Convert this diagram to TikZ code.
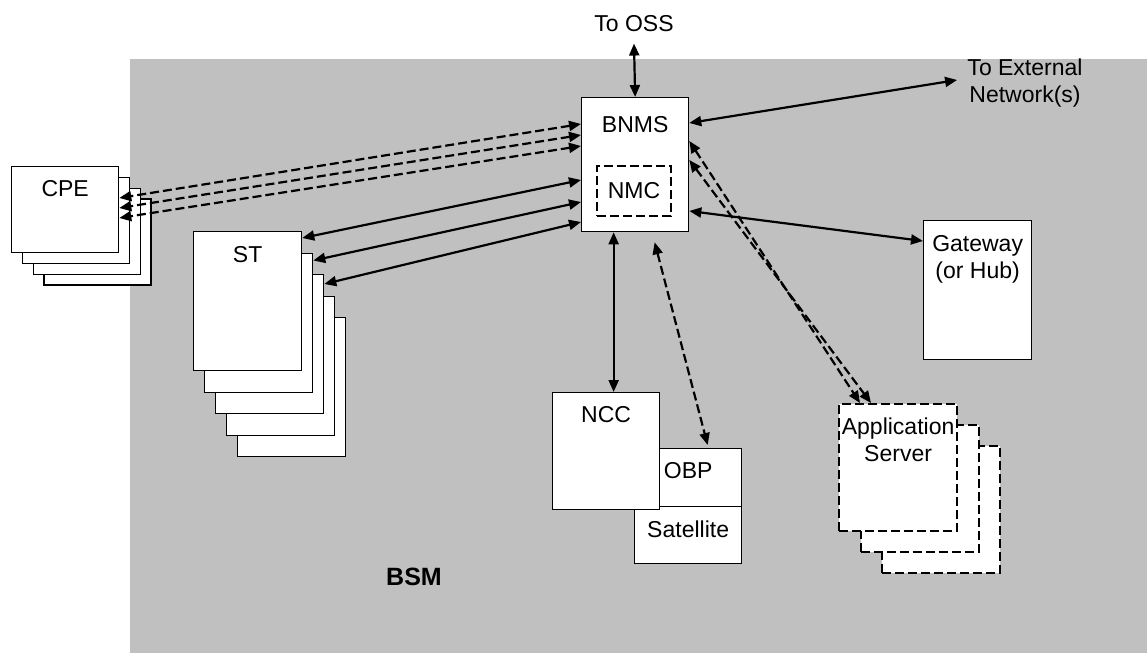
\documentclass[tikz,border=0pt]{standalone}
\usepackage{fontspec}
\setmainfont{Liberation Sans}
\usetikzlibrary{arrows.meta}
\definecolor{bsmgray}{RGB}{192,192,192}
\begin{document}
\begin{tikzpicture}[x=0.5pt,y=-0.5pt,font=\fontsize{11.5}{13.5}\selectfont,>={Triangle[length=6pt,width=5pt]}]
  \tikzstyle{box}=[draw,fill=white,line width=0.65pt,anchor=north west,inner sep=0pt]
  \tikzstyle{dbox}=[box,line width=1.1pt,dash pattern=on 4.5pt off 2pt]
  \tikzstyle{ttl}=[anchor=north,inner sep=0pt,align=center,yshift=-7pt]
  \tikzstyle{link}=[<->,line width=1.1pt]
  \tikzstyle{dlink}=[link,dash pattern=on 4.5pt off 2pt]
  \useasboundingbox (0,0) rectangle (1147,653);
  \fill[bsmgray] (130,59) rectangle (1147,653);
  \foreach \i in {3,2,1}
    \node[box,minimum width=53.5pt,minimum height=43pt] (cpe\i) at ({11+10.8*\i},{166+10.8*\i}) {};
  \node[box,minimum width=53.5pt,minimum height=43pt] (cpe) at (11,166) {};
  \node[ttl] (cpet) at (cpe.north) {CPE};
  \foreach \i in {4,3,2,1}
    \node[box,minimum width=54pt,minimum height=69.5pt] (st\i) at ({193+11*\i},{231+21.5*\i}) {};
  \node[box,minimum width=54pt,minimum height=69.5pt] (st) at (193,231) {};
  \node[ttl] (stt) at ([yshift=-0.5pt]st.north) {ST};
  \node[box,minimum width=53.5pt,minimum height=67pt] (bnms) at (581,97) {};
  \node[ttl] (bnmst) at ([yshift=-2.5pt]bnms.north) {BNMS};
  \node[dbox,anchor=center,line width=0.8pt,minimum width=37pt,minimum height=25pt] (nmc) at (634,191) {NMC};
  \node[box,minimum width=54pt,minimum height=69.5pt] (gw) at (923,220) {};
  \node[ttl] (gwt) at ([yshift=-0.5pt]gw.north) {Gateway\\(or Hub)};
  \node[box,minimum width=53.5pt,minimum height=28.5pt] (sat) at (634,506) {};
  \node[ttl] (satt) at (sat.north) {Satellite};
  \node[box,minimum width=53.5pt,minimum height=29pt] (obp) at (634,448) {};
  \node[ttl] (obpt) at (obp.north) {OBP};
  \node[box,minimum width=53.5pt,minimum height=58.5pt] (ncc) at (552,392) {};
  \node[ttl] (ncct) at (ncc.north) {NCC};
  \foreach \i in {2,1}
    \node[dbox,minimum width=59pt,minimum height=63.5pt] (app\i) at ({838+21.5*\i},{403+21*\i}) {};
  \node[dbox,minimum width=59pt,minimum height=63.5pt] (app) at (838,403) {};
  \node[ttl] (appt) at (app.north) {Application\\Server};
  \node[inner sep=5.5pt] (oss) at (634,24) {To OSS};
  \node[align=center,inner sep=5pt] (ext) at (1025,83) {To External\\Network(s)};
  \node[font=\fontsize{12.5}{14}\selectfont\bfseries] (bsm) at (414,577) {BSM};
  \draw[link] (bnms.north) -- (oss.south);
  \draw[link] ([yshift=-13pt]bnms.north east) -- ([yshift=1.5pt]ext.west);
  \draw[dlink] ([yshift=-22pt]bnms.north east) -- ([xshift=11pt]app.north west);
  \draw[dlink] ([yshift=-31.5pt]bnms.north east) -- ([xshift=16.5pt]app.north west);
  \draw[link] ([yshift=-57pt]bnms.north east) -- ([yshift=-10.5pt]gw.north west);
  \draw[link] ([xshift=-10.75pt]bnms.south) -- ([xshift=3.75pt]ncc.north);
  \draw[dlink] ([xshift=9.75pt,yshift=-5pt]bnms.south) -- ([xshift=9.75pt,yshift=1.5pt]obp.north);
  \foreach \a/\b in {13.5/16,19/21,24.5/26}
    \draw[dlink] ([yshift=-\a pt]bnms.north west) -- ([yshift=-\b pt]cpe.north east);
  \draw[link] ([yshift=-41.5pt]bnms.north west) -- ([yshift=-3.5pt]st.north east);
  \draw[link] ([yshift=-52.5pt]bnms.north west) -- ([yshift=-4pt]st1.north east);
  \draw[link] ([yshift=-62.5pt]bnms.north west) -- ([yshift=-5pt]st2.north east);
\end{tikzpicture}
\end{document}
